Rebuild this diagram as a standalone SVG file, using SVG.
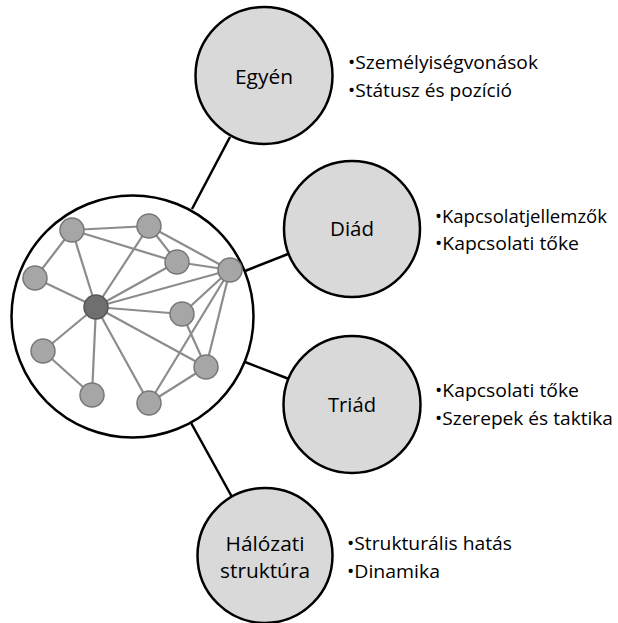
<svg xmlns="http://www.w3.org/2000/svg" width="618" height="623" viewBox="0 0 618 623">
<style>
.bg{fill:#ffffff}
.conn{stroke:#000;stroke-width:2.5;fill:none}
.big{fill:#fff;stroke:#000;stroke-width:2.5}
.sat{fill:#d9d9d9;stroke:#000;stroke-width:2.5}
.edge{stroke:#8c8c8c;stroke-width:2.2}
.n{fill:#a6a6a6;stroke:#777;stroke-width:1.5}
.nc{fill:#6f6f6f;stroke:#555;stroke-width:1.5}
.lbl{font-family:"Open Sans","Noto Sans","Liberation Sans",sans-serif;font-size:20px;fill:#000;text-anchor:middle}
.bul{font-family:"Open Sans","Noto Sans","Liberation Sans",sans-serif;font-size:18.5px;fill:#000}
</style>
<rect class="bg" x="0" y="0" width="618" height="623"/>
<g id="connectors">
<line class="conn" x1="230" y1="137" x2="192" y2="209"/>
<line class="conn" x1="245" y1="271" x2="288" y2="254"/>
<line class="conn" x1="245" y1="362" x2="289" y2="379"/>
<line class="conn" x1="190" y1="421" x2="232" y2="497"/>
</g>
<g id="node-network">
<circle class="big" cx="132.5" cy="316.5" r="121"/>
<g id="network-edges">
<line class="edge" x1="72" y1="230" x2="149" y2="226"/>
<line class="edge" x1="72" y1="230" x2="177" y2="262"/>
<line class="edge" x1="72" y1="230" x2="35" y2="278"/>
<line class="edge" x1="72" y1="230" x2="96" y2="307"/>
<line class="edge" x1="149" y1="226" x2="177" y2="262"/>
<line class="edge" x1="149" y1="226" x2="230" y2="270"/>
<line class="edge" x1="149" y1="226" x2="96" y2="307"/>
<line class="edge" x1="177" y1="262" x2="230" y2="270"/>
<line class="edge" x1="177" y1="262" x2="96" y2="307"/>
<line class="edge" x1="230" y1="270" x2="96" y2="307"/>
<line class="edge" x1="230" y1="270" x2="182" y2="314"/>
<line class="edge" x1="230" y1="270" x2="206" y2="367"/>
<line class="edge" x1="230" y1="270" x2="149" y2="403"/>
<line class="edge" x1="35" y1="278" x2="96" y2="307"/>
<line class="edge" x1="96" y1="307" x2="182" y2="314"/>
<line class="edge" x1="96" y1="307" x2="43" y2="351"/>
<line class="edge" x1="96" y1="307" x2="206" y2="367"/>
<line class="edge" x1="96" y1="307" x2="92" y2="395"/>
<line class="edge" x1="96" y1="307" x2="149" y2="403"/>
<line class="edge" x1="182" y1="314" x2="206" y2="367"/>
<line class="edge" x1="43" y1="351" x2="92" y2="395"/>
<line class="edge" x1="206" y1="367" x2="149" y2="403"/>
</g>
<g id="network-nodes">
<circle class="n" cx="72" cy="230" r="12"/>
<circle class="n" cx="149" cy="226" r="12"/>
<circle class="n" cx="177" cy="262" r="12"/>
<circle class="n" cx="230" cy="270" r="12"/>
<circle class="n" cx="35" cy="278" r="12"/>
<circle class="nc" cx="96" cy="307" r="12"/>
<circle class="n" cx="182" cy="314" r="12"/>
<circle class="n" cx="43" cy="351" r="12"/>
<circle class="n" cx="206" cy="367" r="12"/>
<circle class="n" cx="92" cy="395" r="12"/>
<circle class="n" cx="149" cy="403" r="12"/>
</g>
</g>
<g id="node-egyen">
<circle class="sat" cx="264" cy="75.5" r="68.5"/>
<text class="lbl" x="264" y="84" textLength="58" lengthAdjust="spacingAndGlyphs">Egyén</text>
<text class="bul" x="348" y="69" textLength="190" lengthAdjust="spacingAndGlyphs">•Személyiségvonások</text>
<text class="bul" x="348" y="97" textLength="164" lengthAdjust="spacingAndGlyphs">•Státusz és pozíció</text>
</g>
<g id="node-diad">
<circle class="sat" cx="352" cy="229" r="68"/>
<text class="lbl" x="352" y="236" textLength="44" lengthAdjust="spacingAndGlyphs">Diád</text>
<text class="bul" x="435" y="223" textLength="172" lengthAdjust="spacingAndGlyphs">•Kapcsolatjellemzők</text>
<text class="bul" x="435" y="250" textLength="144" lengthAdjust="spacingAndGlyphs">•Kapcsolati tőke</text>
</g>
<g id="node-triad">
<circle class="sat" cx="352" cy="404.5" r="68.5"/>
<text class="lbl" x="352" y="412" textLength="48" lengthAdjust="spacingAndGlyphs">Triád</text>
<text class="bul" x="435" y="397" textLength="144" lengthAdjust="spacingAndGlyphs">•Kapcsolati tőke</text>
<text class="bul" x="435" y="425" textLength="178" lengthAdjust="spacingAndGlyphs">•Szerepek és taktika</text>
</g>
<g id="node-halozati">
<circle class="sat" cx="265" cy="555.5" r="67.5"/>
<text class="lbl" x="265" y="551" textLength="79" lengthAdjust="spacingAndGlyphs">Hálózati</text>
<text class="lbl" x="265" y="578" textLength="90" lengthAdjust="spacingAndGlyphs">struktúra</text>
<text class="bul" x="347" y="550" textLength="165" lengthAdjust="spacingAndGlyphs">•Strukturális hatás</text>
<text class="bul" x="347" y="578" textLength="93" lengthAdjust="spacingAndGlyphs">•Dinamika</text>
</g>
</svg>
